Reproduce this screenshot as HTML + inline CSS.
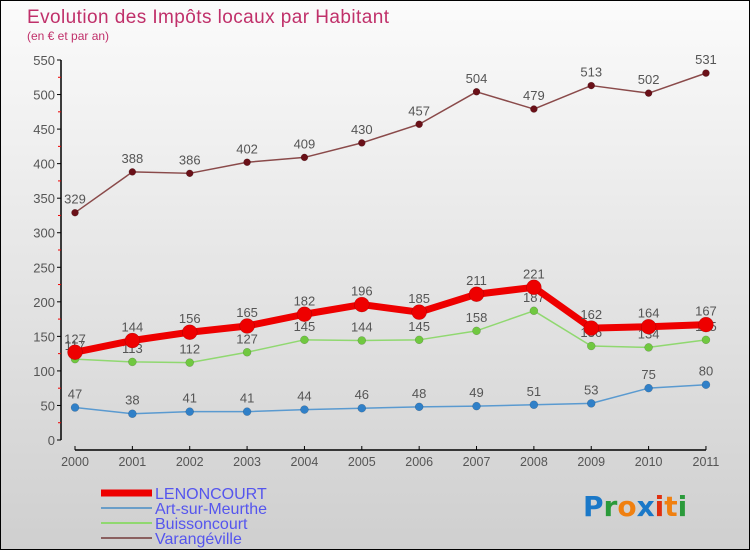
<!DOCTYPE html>
<html><head><meta charset="utf-8"><style>
body{margin:0}
#c{width:748px;height:548px;border:1px solid #000;background:linear-gradient(#fbfbfb,#cfcfcf);position:relative;overflow:hidden;font-family:"DejaVu Sans","Liberation Sans",sans-serif}
</style></head><body>
<div id="c">
<svg id="s" width="748" height="548" style="position:absolute;left:0;top:0">
<text x="26" y="22" font-size="19" fill="#c0306a" font-family="Liberation Sans, sans-serif" textLength="362">Evolution des Impôts locaux par Habitant</text>
<text x="26" y="39" font-size="12" fill="#c0306a" font-family="Liberation Sans, sans-serif">(en € et par an)</text>
</svg>
</div>
<script>
const years=[2000,2001,2002,2003,2004,2005,2006,2007,2008,2009,2010,2011];
const lenoncourt=[127,144,156,165,182,196,185,211,221,162,164,167];
const artSurMeurthe=[47,38,41,41,44,46,48,49,51,53,75,80];
const buissoncourt=[117,113,112,127,145,144,145,158,187,136,134,145];
const varangeville=[329,388,386,402,409,430,457,504,479,513,502,531];
const yTicks=[0,50,100,150,200,250,300,350,400,450,500,550];
const NS='http://www.w3.org/2000/svg';
const s=document.getElementById('s');
const X=i=>74+i*57.36, Y=v=>439-v*0.6909;
function el(t,a,p){const e=document.createElementNS(NS,t);for(const k in a)e.setAttribute(k,a[k]);(p||s).appendChild(e);return e;}
let a=el('line',{x1:60,y1:Y(550),x2:60,y2:Y(0),stroke:'#000','stroke-width':1.5});

a=el('line',{x1:X(0),y1:449,x2:X(11),y2:449,stroke:'#000','stroke-width':1.5});

yTicks.forEach(v=>{
 el('line',{x1:56,y1:Y(v),x2:60,y2:Y(v),stroke:'#000'});
 if(v<550) el('line',{x1:57,y1:Y(v+25),x2:60,y2:Y(v+25),stroke:'#e00'});
 const t=el('text',{x:54,y:Y(v)+5,'text-anchor':'end','font-size':13,fill:'#555','font-family':'Liberation Sans, sans-serif'});t.textContent=v;
 
});
years.forEach((y,i)=>{
 el('line',{x1:X(i),y1:445,x2:X(i),y2:449,stroke:'#000'});
 const t=el('text',{x:X(i),y:465,'text-anchor':'middle','font-size':12.5,fill:'#555','font-family':'Liberation Sans, sans-serif'});t.textContent=y;
 
});
function series(vals,col,dot,w,r,name){
 const g=el('g',{});
 el('polyline',{points:vals.map((v,i)=>X(i)+','+Y(v)).join(' '),fill:'none',stroke:col,'stroke-width':w,'stroke-linejoin':'round'},g);
 vals.forEach((v,i)=>{
  const c=el('circle',{cx:X(i),cy:Y(v),r:r,fill:dot,stroke:'rgba(0,0,0,0.25)','stroke-width':0.5},g);
  
  const t=el('text',{x:X(i),y:Y(v)-9,'text-anchor':'middle','font-size':13,fill:'#555','font-family':'Liberation Sans, sans-serif'},g);t.textContent=v;
  
 });
}
series(varangeville,'#8a4a4a','#6a1018',1.5,3.5,'varangeville');
series(artSurMeurthe,'#5a9ad0','#3080c8',1.5,4,'art-sur-meurthe');
series(buissoncourt,'#90d870','#70c840',1.5,4,'buissoncourt');
series(lenoncourt,'#ee0000','#ee0000',7,7.5,'lenoncourt');
const leg=[['LENONCOURT','#ee0000',7],['Art-sur-Meurthe','#6a9ec8',2],['Buissoncourt','#90d870',2],['Varangéville','#8a6060',2]];
leg.forEach((l,i)=>{
 const g=el('g',{});
 const y=492+i*15;
 el('line',{x1:100,y1:y,x2:151,y2:y,stroke:l[1],'stroke-width':l[2]},g);
 const t=el('text',{x:154,y:y+6,'font-size':16,fill:'#5555ee','font-family':'Liberation Sans, sans-serif'},g);t.textContent=l[0];
});
const logo=el('text',{x:582,y:515,'font-size':28,'font-weight':'bold'});

[['P','#1a78c8'],['r','#2a9a3a'],['o','#f08010'],['x','#1a78c8'],['i','#e03010'],['t','#f08010'],['i','#2a9a3a']].forEach(p=>{const ts=el('tspan',{fill:p[1]},logo);ts.textContent=p[0];});
</script>
</body></html>
